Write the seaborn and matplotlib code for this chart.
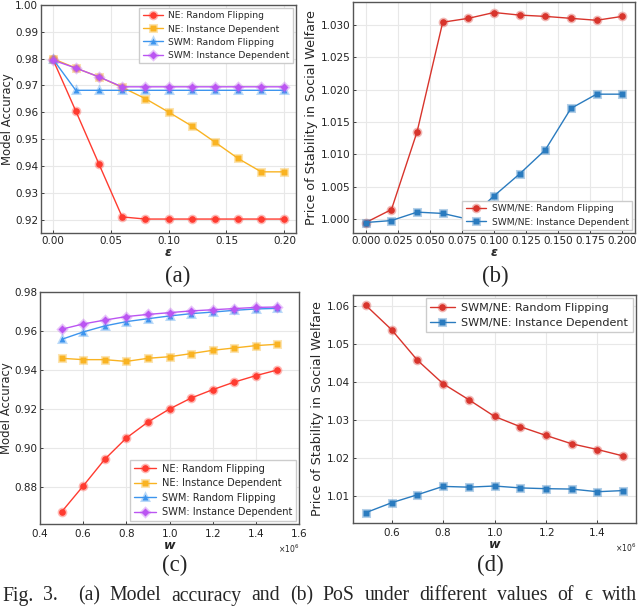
import numpy as np
import pandas as pd
import matplotlib
matplotlib.use("Agg")
import matplotlib.pyplot as plt
from matplotlib.colors import to_rgba
from matplotlib.ticker import ScalarFormatter, MultipleLocator
import seaborn as sns

# ---------------- data ----------------
eps = [0.00, 0.02, 0.04, 0.06, 0.08, 0.10, 0.12, 0.14, 0.16, 0.18, 0.20]
acc_ne_rf = [0.9800, 0.9605, 0.9407, 0.9210, 0.9202, 0.9202, 0.9202, 0.9202, 0.9202, 0.9202, 0.9202]
acc_ne_id = [0.9800, 0.9765, 0.9732, 0.9693, 0.9651, 0.9601, 0.9549, 0.9489, 0.9428, 0.9378, 0.9378]
acc_swm_rf = [0.9800, 0.9682, 0.9682, 0.9682, 0.9682, 0.9682, 0.9682, 0.9682, 0.9682, 0.9682, 0.9682]
acc_swm_id = [0.9795, 0.9765, 0.9732, 0.9695, 0.9695, 0.9695, 0.9695, 0.9695, 0.9695, 0.9695, 0.9695]

pos_eps_rf = [0.9995, 1.0015, 1.0135, 1.0304, 1.0310, 1.0319, 1.0315, 1.0313, 1.0310, 1.0307, 1.0313]
pos_eps_id = [0.9995, 0.9998, 1.0011, 1.0009, 1.0000, 1.0036, 1.0070, 1.0107, 1.0171, 1.0193, 1.0193]

w = [0.5e6, 0.6e6, 0.7e6, 0.8e6, 0.9e6, 1.0e6, 1.1e6, 1.2e6, 1.3e6, 1.4e6, 1.5e6]
accw_ne_rf = [0.8672, 0.8805, 0.8942, 0.9051, 0.9133, 0.9200, 0.9256, 0.9299, 0.9338, 0.9371, 0.9400]
accw_ne_id = [0.9460, 0.9453, 0.9453, 0.9444, 0.9460, 0.9468, 0.9484, 0.9501, 0.9513, 0.9525, 0.9532]
accw_swm_rf = [0.9557, 0.9595, 0.9626, 0.9648, 0.9663, 0.9677, 0.9689, 0.9697, 0.9706, 0.9713, 0.9716]
accw_swm_id = [0.9609, 0.9636, 0.9656, 0.9674, 0.9685, 0.9694, 0.9703, 0.9709, 0.9715, 0.9721, 0.9723]

pos_w_rf = [1.0602, 1.0538, 1.0458, 1.0396, 1.0354, 1.0310, 1.0283, 1.0260, 1.0238, 1.0223, 1.0206]
pos_w_id = [1.0057, 1.0083, 1.0104, 1.0126, 1.0124, 1.0127, 1.0122, 1.0120, 1.0119, 1.0112, 1.0115]

acc_labels = ["NE: Random Flipping", "NE: Instance Dependent",
              "SWM: Random Flipping", "SWM: Instance Dependent"]
pos_labels = ["SWM/NE: Random Flipping", "SWM/NE: Instance Dependent"]
panel_labels = ["(a)", "(b)", "(c)", "(d)"]
caption_words = ["Fig.", "3.", "(a)", "Model", "accuracy", "and", "(b)", "PoS",
                 "under", "different", "values", "of", "\u03f5", "with"]

# ---------------- style ----------------
sns.set_style("whitegrid")
plt.rcParams.update({
    "font.family": ["DejaVu Sans"],
    "axes.edgecolor": "#555555",
    "axes.linewidth": 1.0,
    "grid.color": "#e8e8e8",
    "grid.linewidth": 0.8,
    "xtick.direction": "in",
    "ytick.direction": "in",
    "xtick.bottom": True,
    "ytick.left": True,
    "xtick.major.size": 2.5,
    "ytick.major.size": 2.5,
    "xtick.major.width": 0.6,
    "ytick.major.width": 0.6,
    "xtick.color": "#222222",
    "ytick.color": "#222222",
    "xtick.labelsize": 7.5,
    "ytick.labelsize": 7.5,
})

acc_colors = ["#ff3b30", "#f9b322", "#3d95ee", "#bb55f2"]
acc_markers = ["o", "s", "^", "D"]
pos_colors = ["#d8342c", "#2a7bbf"]
pos_markers = ["o", "s"]

fig = plt.figure(figsize=(6.4, 6.06), dpi=100)
H = 606.0
W = 640.0


def add_ax(l, r, t, b):
    return fig.add_axes([l / W, 1 - b / H, (r - l) / W, (b - t) / H])


ax_a = add_ax(41, 296, 5, 233)
ax_b = add_ax(353, 635, 2, 233)
ax_c = add_ax(40, 299, 292, 524)
ax_d = add_ax(353, 636, 295, 523)


def draw(ax, x, series, labels, colors, markers, ms=4.8):
    for y, lab, c, m in zip(series, labels, colors, markers):
        df = pd.DataFrame({"x": x, "y": y})
        sns.lineplot(data=df, x="x", y="y", ax=ax, color=c, label=lab,
                     marker=m, markersize=ms if m != "D" else ms - 0.4,
                     markeredgecolor=to_rgba(c, 0.35), markeredgewidth=2.2,
                     linewidth=1.0)


draw(ax_a, eps, [acc_ne_rf, acc_ne_id, acc_swm_rf, acc_swm_id], acc_labels, acc_colors, acc_markers)
draw(ax_b, eps, [pos_eps_rf, pos_eps_id], pos_labels, pos_colors, pos_markers)
draw(ax_c, w, [accw_ne_rf, accw_ne_id, accw_swm_rf, accw_swm_id], acc_labels, acc_colors, acc_markers)
draw(ax_d, w, [pos_w_rf, pos_w_id], pos_labels, pos_colors, pos_markers)

acc_label_kw = dict(fontsize=8.4, labelpad=1)
pos_label_kw = dict(fontsize=9.2, labelpad=2)
xlabel_kw = dict(fontsize=9, fontweight="bold", style="italic", labelpad=0)

ax_a.set_ylim(0.915, 1.0)
ax_a.yaxis.set_major_locator(MultipleLocator(0.01))
ax_a.xaxis.set_major_locator(MultipleLocator(0.05))
ax_a.set_ylabel("Model Accuracy", **acc_label_kw)
ax_a.set_xlabel("\u03b5", **xlabel_kw)

ax_b.xaxis.set_major_locator(MultipleLocator(0.025))
ax_b.yaxis.set_major_locator(MultipleLocator(0.005))
ax_b.set_ylabel("Price of Stability in Social Welfare", **pos_label_kw)
ax_b.set_xlabel("\u03b5", **xlabel_kw)

ax_c.set_xlim(0.4e6, 1.6e6)
ax_c.set_ylim(0.861, 0.98)
ax_c.yaxis.set_major_locator(MultipleLocator(0.02))
ax_c.set_ylabel("Model Accuracy", **acc_label_kw)
ax_c.set_xlabel("w", **xlabel_kw)

ax_d.yaxis.set_major_locator(MultipleLocator(0.01))
ax_d.set_ylabel("Price of Stability in Social Welfare", **pos_label_kw)
ax_d.set_xlabel("w", **xlabel_kw)

for ax in (ax_c, ax_d):
    fmt = ScalarFormatter(useMathText=True)
    fmt.set_scientific(True)
    fmt.set_powerlimits((0, 0))
    ax.xaxis.set_major_formatter(fmt)
    ax.xaxis.get_offset_text().set_fontsize(5.5)

for ax in (ax_a, ax_b, ax_c, ax_d):
    ax.tick_params(pad=2)

leg_kw = dict(frameon=True, fancybox=False, edgecolor="#cccccc",
              handlelength=2.2, borderpad=0.4, labelspacing=0.45, handletextpad=0.6,
              borderaxespad=0.3, framealpha=1.0)
ax_a.legend(loc="upper right", fontsize=6.6, **leg_kw)
ax_b.legend(loc="lower right", fontsize=6.6, **leg_kw)
ax_c.legend(loc="lower right", fontsize=7.1, **leg_kw)
ax_d.legend(loc="upper right", fontsize=8.0, **leg_kw)

serif = ["Liberation Serif", "DejaVu Serif"]
for lab, (x, y) in zip(panel_labels, [(178, 276), (495, 276), (175, 565), (490, 565)]):
    fig.text(x / W, 1 - y / H, lab, family=serif, fontsize=16.5, ha="center", va="center")

# justified caption line spanning the figure width
renderer = fig.canvas.get_renderer()
cap_texts = []
widths = []
for word in caption_words:
    t = fig.text(0, 1 - 600.5 / H, word, family=serif, fontsize=14.2, ha="left", va="baseline")
    cap_texts.append(t)
    widths.append(t.get_window_extent(renderer=renderer).width)
x_left, x_right = 2.0, 637.0
gaps = [1.0] * (len(caption_words) - 1)
gaps[1] = 2.0  # wider gap after "Fig. 3."
free = (x_right - x_left) - sum(widths)
unit = free / sum(gaps)
xpos = x_left
for i, t in enumerate(cap_texts):
    t.set_x(xpos / W)
    xpos += widths[i]
    if i < len(gaps):
        xpos += gaps[i] * unit

fig.savefig("out.png", dpi=100)
